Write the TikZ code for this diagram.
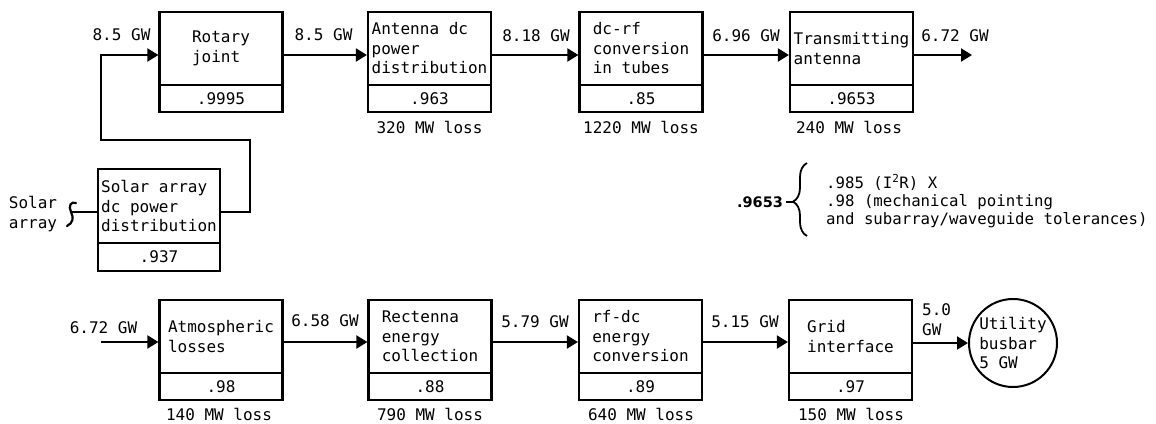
\documentclass[tikz,border=0pt]{standalone}
\usepackage{fontspec}
\newfontfamily\monof{DejaVu Sans Mono}
\newfontfamily\sansf{DejaVu Sans}
\usetikzlibrary{arrows.meta,decorations.pathreplacing}
\begin{document}
\begin{tikzpicture}[x=1pt,y=-1pt,
  every node/.style={font=\monof\fontsize{16}{19.5}\selectfont, inner sep=0pt},
  upper/.style={draw, line width=2.2pt, minimum width=123pt, minimum height=73pt, align=left},
  lower/.style={draw, line width=2.2pt, minimum width=123pt, minimum height=27pt},
  arr/.style={line width=2pt, -{Triangle[length=11pt,width=13pt]}},
  wire/.style={line width=2pt},
  lbl/.style={anchor=center},
  ]
\useasboundingbox (0,0) rectangle (1156,423);

% ---------- top row ----------
\node[upper] (b1) at (221,48.5) {Rotary\\joint};
\node[lower] (b1e) at (221,98.5) {.9995};
\node[upper] (b2) at (429.5,48.5) {Antenna dc\\power\\distribution};
\node[lower] (b2e) at (429.5,98.5) {.963};
\node[upper] (b3) at (641,48.5) {dc-rf\\conversion\\in tubes};
\node[lower] (b3e) at (641,98.5) {.85};
\node[upper] (b4) at (851.5,48.5) {Transmitting\\antenna};
\node[lower] (b4e) at (851.5,98.5) {.9653};

\node[lbl] (l2) at (429.5,127) {320 MW loss};
\node[lbl] (l3) at (641,127) {1220 MW loss};
\node[lbl] (l4) at (849,127) {240 MW loss};

\node[lbl] (a0) at (121.5,35) {8.5 GW};
\node[lbl] (a1) at (323.5,35) {8.5 GW};
\node[lbl] (a2) at (536,36) {8.18 GW};
\node[lbl] (a3) at (746,36) {6.96 GW};
\node[lbl] (a4) at (955,36) {6.72 GW};

\draw[arr] ([yshift=-6.5pt]b1.east) -- ([yshift=-6.5pt]b2.west);
\draw[arr] ([yshift=-6.5pt]b2.east) -- ([yshift=-6.5pt]b3.west);
\draw[arr] ([yshift=-6.5pt]b3.east) -- ([yshift=-6.5pt]b4.west);
\coordinate (o4) at (972,55);
\draw[arr] ([yshift=-6.5pt]b4.east) -- (o4);

% ---------- solar array ----------
\node[upper, minimum height=74pt, minimum width=122pt] (s) at (159,206) {Solar array\\dc power\\distribution};
\node[lower, minimum height=28pt, minimum width=122pt] (se) at (159,257) {.937};
\node[align=left] (sl) at (33,214) {Solar\\array};
\coordinate (sq) at (71,212);
\draw[line width=2.2pt, line cap=round] (76,203) .. controls (71,201) and (68,206) .. (sq) .. controls (74,218) and (73,223) .. (67,226);
\draw[wire] (sq) -- ([yshift=-6pt]s.west);
\coordinate (c1) at (250,140);
\coordinate (c2) at (101,140);
\draw[arr] ([yshift=-6pt]s.east) -| (c1) -- (c2) |- ([yshift=-6.5pt]b1.west);

% ---------- efficiency note ----------
\node[font=\sansf\bfseries\fontsize{14.5}{18}\selectfont] (k) at (760,202) {.9653};
\coordinate (kt) at (793,202);
\draw[line width=1.6pt] ([xshift=3pt]k.east) -- (kt);
\draw[line width=1.8pt, decorate, decoration={brace, amplitude=14pt, aspect=0.47}] (807,236) -- (807,163);
\node[anchor=west, align=left, font=\monof\fontsize{15.7}{18}\selectfont] (kn) at (826,201)
  {.985 (I\textsuperscript{2}R) X\\.98 (mechanical pointing\\and subarray/waveguide tolerances)};

% ---------- bottom row ----------
\node[upper] (b5) at (221,336.5) {Atmospheric\\losses};
\node[lower] (b5e) at (221,386.5) {.98};
\node[upper] (b6) at (430,336.5) {Rectenna\\energy\\collection};
\node[lower] (b6e) at (430,386.5) {.88};
\node[upper] (b7) at (640.5,336.5) {rf-dc\\energy\\conversion};
\node[lower] (b7e) at (640.5,386.5) {.89};
\node[upper] (b8) at (850.5,336.5) {Grid\\interface};
\node[lower] (b8e) at (850.5,386.5) {.97};
\node[draw, circle, line width=2pt, minimum size=88pt, align=left] (u) at (1013,343) {Utility\\busbar\\5 GW};

\node[lbl] (l5) at (219,414) {140 MW loss};
\node[lbl] (l6) at (430,414) {790 MW loss};
\node[lbl] (l7) at (641,414) {640 MW loss};
\node[lbl] (l8) at (851,414) {150 MW loss};

\node[lbl] (d0) at (103.5,328) {6.72 GW};
\node[lbl] (d1) at (325,321) {6.58 GW};
\node[lbl] (d2) at (535,322) {5.79 GW};
\node[lbl] (d3) at (745,322) {5.15 GW};
\node[anchor=west, align=left] (d4) at (922,319.5) {5.0\\GW};

\coordinate (i5) at (101,342);
\draw[arr] (i5) -- ([yshift=-5.5pt]b5.west);
\draw[arr] ([yshift=-5.5pt]b5.east) -- ([yshift=-5.5pt]b6.west);
\draw[arr] ([yshift=-5.5pt]b6.east) -- ([yshift=-5.5pt]b7.west);
\draw[arr] ([yshift=-5.5pt]b7.east) -- ([yshift=-5.5pt]b8.west);
\draw[arr] ([yshift=-6.5pt]b8.east) -- (u.west);
\end{tikzpicture}
\end{document}
